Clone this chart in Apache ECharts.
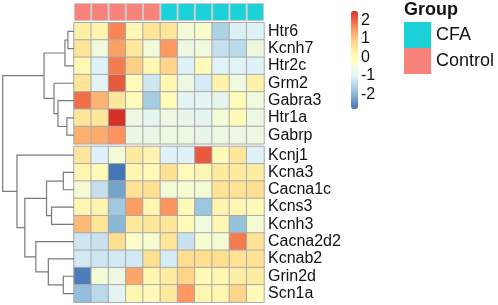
<!DOCTYPE html>
<html>
<head>
<meta charset="utf-8">
<script src="https://cdn.jsdelivr.net/npm/echarts@6/dist/echarts.min.js"></script>
<style>
  html, body { margin: 0; padding: 0; background: #fff; }
  #chart { width: 498px; height: 305px; }
</style>
</head>
<body>
<div id="chart"></div>
<script>
// samples (columns) and their group annotation
const samples = ["C1", "C2", "C3", "C4", "C5", "F1", "F2", "F3", "F4", "F5", "F6"];
const groups = ["Control", "Control", "Control", "Control", "Control", "CFA", "CFA", "CFA", "CFA", "CFA", "CFA"];

// genes, split by the row cut
const genesTop = ["Htr6", "Kcnh7", "Htr2c", "Grm2", "Gabra3", "Htr1a", "Gabrp"];
const genesBottom = ["Kcnj1", "Kcna3", "Cacna1c", "Kcns3", "Kcnh3", "Cacna2d2", "Kcnab2", "Grin2d", "Scn1a"];

// scaled expression (z-score), one row per gene
const valuesTop = [
  [0.3, 0.15, 1.7, 0.05, 0.6, 0.6, -0.5, -0.3, -1.6, -1.1, -1.05],
  [0.6, -0.6, 1.4, 0.5, -0.55, 1.5, -0.7, -0.6, -1.35, -1.45, -0.65],
  [0.05, -1.05, 1.8, 0.9, 0.05, 0.85, -1.05, 0.0, -1.0, -1.0, -1.05],
  [0.6, -0.95, 2.1, -0.05, -1.25, 0.1, -0.7, -1.15, 0.2, -0.6, 0.25],
  [1.9, 1.2, 0.55, -0.05, -1.7, 0.0, -0.95, -0.95, -0.85, 0.0, -0.6],
  [0.55, 0.55, 2.5, -0.7, -0.9, -0.7, -0.8, -0.95, -0.5, 0.0, -0.7],
  [1.25, 1.3, 1.55, -0.75, -0.75, -0.7, -0.7, -0.8, -0.7, -0.7, -0.7]
];
const valuesBottom = [
  [0.55, -1.05, -0.5, 0.45, 0.15, -1.05, -1.05, 2.1, 0.0, 0.55, -1.05],
  [0.1, 0.0, -2.8, 0.1, 0.0, 0.7, 0.0, 0.1, 0.45, 0.45, 0.4],
  [-0.45, -1.35, -2.25, 0.65, 0.7, -0.5, -0.4, -0.5, 0.65, 0.65, 0.75],
  [0.1, 0.15, -1.75, 1.45, 0.1, 1.55, 0.0, -1.8, 0.15, 0.1, 0.0],
  [1.15, 0.6, -2.0, 0.5, 0.55, 0.55, 0.0, -0.6, 0.1, -1.85, -0.45],
  [-1.25, -1.3, 0.75, -0.3, -0.4, 0.6, -1.3, -0.4, -0.45, 1.8, 0.65],
  [-1.2, -1.25, -1.2, -1.2, 0.75, -1.15, 0.75, 0.75, 0.75, 0.65, 0.65],
  [-2.7, -0.5, -0.7, 1.35, 0.1, 0.4, 0.85, 0.0, 0.1, 0.35, 0.4],
  [-1.9, -1.45, -0.95, 0.1, 0.0, 0.45, 1.5, 0.1, 0.1, 0.85, 0.0]
];

// row dendrogram, hclust style: negative = leaf (1-based, display order), positive = earlier merge
const mergeA = [-1, -6, 1, -9, -15, -5, -4, -11, -14, 4, 3, -13, 10, -8, 11];
const mergeB = [-2, -7, -3, -10, -16, 2, 6, -12, 5, 8, 7, 9, 12, 13, 14];
const mergeH = [0.85, 1.0, 1.27, 1.5, 1.5, 2.25, 2.8, 3.15, 3.6, 3.85, 4.2, 5.35, 6.9, 8.0, 10.0];

// colour scale
const scaleMin = -2.8;
const scaleMax = 2.5;
const palette = ["#4575B4", "#91BFDB", "#E0F3F8", "#FFFFBF", "#FEE090", "#FC8D59", "#D73027"];
const groupColors = { CFA: "#1BD2D8", Control: "#F8837B" };

// layout
const left = 74, cellW = 17.27, cellH = 17.3, top0 = 22.7, gap = 2.7;
const topH = genesTop.length * cellH;
const botTop = top0 + topH + gap;
const botH = genesBottom.length * cellH;
const gapUnits = gap / cellH;
const font = "Liberation Sans, Arial, sans-serif";

function heatData(rows) {
  const out = [];
  rows.forEach((row, r) => row.forEach((v, c) => out.push([c, r, v])));
  return out;
}

// dendrogram segments in (height, row-position) space
function dendroLines() {
  const nTop = genesTop.length;
  const leafY = k => (k < nTop ? k + 0.5 : k + 0.5 + gapUnits);
  const nodes = [];
  const node = id => (id < 0 ? { h: 0, y: leafY(-id - 1) } : nodes[id - 1]);
  const segs = [];
  mergeH.forEach((h, i) => {
    const a = node(mergeA[i]), b = node(mergeB[i]);
    segs.push({ coords: [[a.h, a.y], [h, a.y], [h, b.y], [b.h, b.y]] });
    nodes.push({ h: h, y: (a.y + b.y) / 2 });
  });
  return segs;
}

const catAxisY = (data, gridIndex) => ({
  type: "category", data: data, gridIndex: gridIndex, inverse: true, position: "right",
  axisLine: { show: false }, axisTick: { show: false }, splitLine: { show: false },
  axisLabel: { interval: 0, fontSize: 16, color: "#111", margin: 4, fontFamily: font }
});
const catAxisX = gridIndex => ({
  type: "category", data: samples, gridIndex: gridIndex, show: false
});

const heatStyle = { borderColor: "#a8a8a8", borderWidth: 1 };

const option = {
  animation: false,
  backgroundColor: "#fff",
  title: {
    text: "Group", left: 404, top: 1, padding: 0,
    textStyle: { fontSize: 18, fontWeight: "bold", color: "#111", fontFamily: font }
  },
  legend: {
    data: ["CFA", "Control"], orient: "vertical", left: 404, top: 22, padding: 0,
    itemWidth: 27, itemHeight: 26, itemGap: 0, icon: "rect", selectedMode: false,
    itemStyle: { borderWidth: 0 },
    textStyle: { fontSize: 18, color: "#111", fontFamily: font }
  },
  visualMap: {
    type: "continuous", min: scaleMin, max: scaleMax, seriesIndex: [2, 3],
    left: 351, top: 11, itemWidth: 7, itemHeight: 98, padding: 0,
    calculable: false, inRange: { color: palette }
  },
  grid: [
    { left: left, top: 3, width: cellW * samples.length, height: 18 },
    { left: left, top: top0, width: cellW * samples.length, height: topH },
    { left: left, top: botTop, width: cellW * samples.length, height: botH },
    { left: 2.7, top: top0, width: left - 2.7, height: botTop + botH - top0 },
    { left: 351, top: 11, width: 7, height: 98 }
  ],
  xAxis: [
    catAxisX(0), catAxisX(1), catAxisX(2),
    { type: "value", gridIndex: 3, inverse: true, min: 0, max: Math.max(...mergeH), show: false },
    { type: "category", gridIndex: 4, data: [""], show: false }
  ],
  yAxis: [
    { type: "value", gridIndex: 0, min: 0, max: 1, show: false },
    catAxisY(genesTop, 1),
    catAxisY(genesBottom, 2),
    { type: "value", gridIndex: 3, inverse: true, min: 0, max: genesTop.length + genesBottom.length + gapUnits, show: false },
    {
      type: "value", gridIndex: 4, min: scaleMin, max: scaleMax, splitNumber: 5, position: "right",
      axisLine: { show: false }, axisTick: { show: false }, splitLine: { show: false },
      axisLabel: { fontSize: 16, color: "#111", margin: 3, fontFamily: font, showMinLabel: false, showMaxLabel: false }
    }
  ],
  series: [
    {
      name: "Control", type: "bar", xAxisIndex: 0, yAxisIndex: 0, barWidth: "100%", stack: "g",
      itemStyle: { color: groupColors.Control, borderColor: "#c8c8c8", borderWidth: 1 },
      data: groups.map(g => (g === "Control" ? 1 : "-"))
    },
    {
      name: "CFA", type: "bar", xAxisIndex: 0, yAxisIndex: 0, barWidth: "100%", stack: "g",
      itemStyle: { color: groupColors.CFA, borderColor: "#c8c8c8", borderWidth: 1 },
      data: groups.map(g => (g === "CFA" ? 1 : "-"))
    },
    {
      type: "heatmap", xAxisIndex: 1, yAxisIndex: 1, data: heatData(valuesTop),
      itemStyle: heatStyle, emphasis: { disabled: true }
    },
    {
      type: "heatmap", xAxisIndex: 2, yAxisIndex: 2, data: heatData(valuesBottom),
      itemStyle: heatStyle, emphasis: { disabled: true }
    },
    {
      type: "lines", coordinateSystem: "cartesian2d", xAxisIndex: 3, yAxisIndex: 3,
      polyline: true, silent: true,
      lineStyle: { color: "#7a7a7a", width: 1.2, opacity: 1 },
      data: dendroLines()
    }
  ]
};

const chart = echarts.init(document.getElementById("chart"), null, { renderer: "canvas" });
chart.setOption(option);
</script>
</body>
</html>
